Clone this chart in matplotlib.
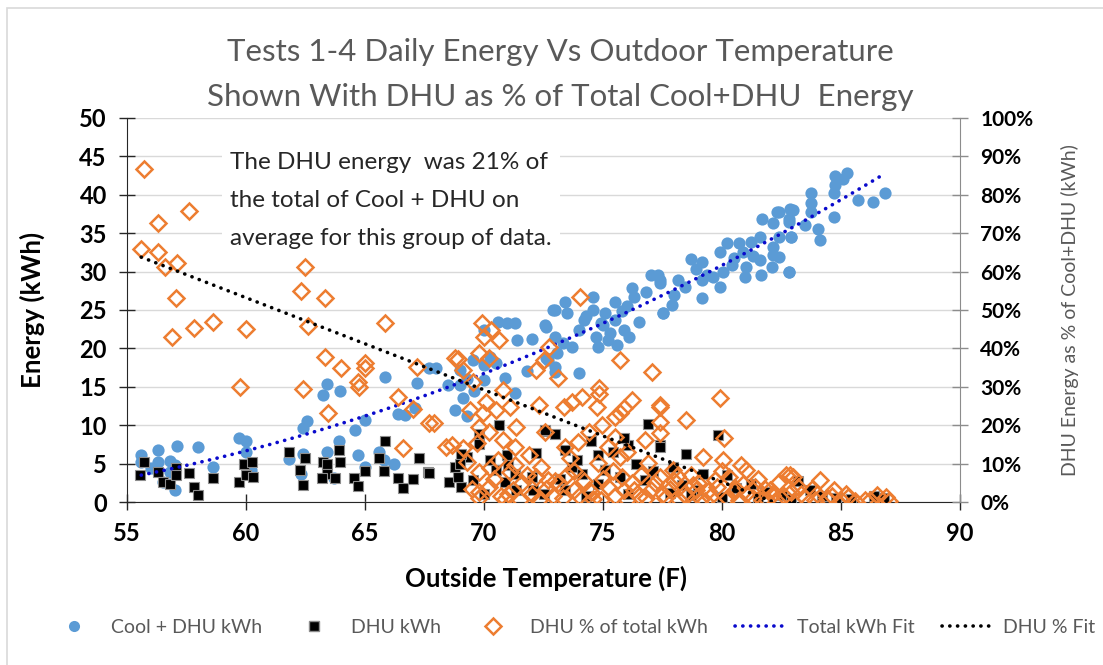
import numpy as np
import matplotlib
matplotlib.use("Agg")
import matplotlib.pyplot as plt
from matplotlib.lines import Line2D

plt.rcParams['font.family'] = ['Lato', 'DejaVu Sans']

# Cool + DHU daily energy (kWh) vs outdoor temperature (F)
cool_t = [55.6, 55.6, 56.3, 56.3, 57.1, 58.0, 58.6, 56.8, 56.5, 57.0, 56.8, 59.7, 60.0, 60.0, 60.2, 57.0, 56.0,
          63.4, 63.25, 63.95, 65.85, 67.2, 67.7, 66.4, 66.7, 67.1, 62.55, 62.4, 65.0, 64.6, 63.9, 63.4, 62.4,
          64.7, 65.6, 65.8, 62.3, 63.7, 65.0, 61.8, 66.2,
          70.6, 71.3, 70.95, 70.0, 71.4, 72.0, 72.55, 72.9, 72.6, 73.05, 69.55, 70.0, 70.5, 69.0, 70.9, 69.6,
          69.1, 68.8, 71.3, 70.0, 70.25, 68.0, 69.3, 68.5, 71.8, 73.0, 69.3, 69.0,
          77.0, 77.3, 77.4, 76.2, 76.8, 74.6, 75.5, 73.4, 73.0, 73.5, 74.6, 75.1, 76.3, 77.5, 74.2, 74.0, 74.9,
          75.5, 75.9, 76.1, 74.7, 75.2, 74.8, 75.6, 72.6, 73.0, 73.7, 73.3, 72.7, 73.0, 74.0, 75.0, 75.8, 76.5,
          74.3, 75.3, 76.0,
          82.3, 82.85, 81.7, 82.15, 82.8, 81.6, 82.9, 81.2, 80.7, 80.2, 79.9, 80.9, 82.15, 82.15, 78.7, 79.15,
          81.6, 80.4, 81.0, 78.9, 82.1, 80.05, 79.35, 80.95, 81.65, 82.8, 78.15, 78.45, 79.15, 79.6, 79.9, 79.15,
          77.4, 77.9, 77.5, 78.0, 80.5, 81.3,
          85.25, 84.75, 84.75, 84.7, 85.1, 83.75, 83.75, 83.75, 85.7, 86.35, 86.85, 84.7, 83.0, 82.8, 82.4, 83.5,
          84.05, 84.1, 82.9, 82.4, 82.8, 82.4]
cool_kwh = [6.1, 5.2, 6.8, 5.2, 7.3, 7.2, 4.6, 5.4, 2.6, 1.6, 3.9, 8.3, 7.9, 6.5, 4.2, 4.8, 4.4,
            15.4, 13.9, 14.4, 16.3, 15.5, 17.5, 11.5, 11.3, 12.2, 10.5, 9.6, 10.7, 9.4, 7.9, 6.5, 6.3,
            6.1, 6.5, 5.5, 3.7, 3.1, 4.6, 5.6, 5.0,
            23.5, 23.3, 23.3, 22.4, 21.1, 21.2, 23.0, 25.0, 18.7, 19.4, 18.5, 17.8, 18.1, 17.2, 16.1, 14.4,
            13.5, 12.0, 14.2, 15.9, 18.9, 17.4, 16.0, 15.2, 17.0, 16.9, 11.2, 15.2,
            29.6, 29.6, 28.5, 27.8, 27.4, 26.7, 26.1, 26.1, 25.0, 24.6, 25.0, 24.6, 26.7, 24.6, 23.7, 22.4, 23.3,
            23.7, 22.4, 21.5, 21.5, 21.1, 20.2, 20.4, 22.8, 21.5, 20.2, 20.7, 18.5, 17.6, 16.8, 23.0, 24.9, 23.5,
            24.2, 22.0, 25.5,
            37.8, 38.2, 36.9, 36.3, 36.5, 34.5, 34.5, 33.9, 33.7, 33.7, 32.6, 32.6, 33.2, 32.2, 31.7, 31.3,
            31.5, 30.9, 30.6, 30.4, 30.6, 30.0, 29.6, 29.3, 29.6, 30.0, 28.9, 28.0, 28.9, 29.3, 28.0, 26.5,
            28.9, 25.6, 24.6, 27.0, 31.8, 32.0,
            42.8, 42.4, 41.3, 40.2, 42.1, 40.2, 38.9, 37.8, 39.3, 39.1, 40.2, 37.1, 38.0, 36.9, 37.8, 36.1,
            35.6, 34.1, 34.5, 34.5, 30.0, 31.9]

# DHU daily energy (kWh)
dhu_t = [55.7, 55.55, 56.3, 56.5, 56.8, 57.05, 57.05, 57.6, 57.8, 58.0, 58.6, 59.7, 59.9, 60.0, 60.3, 60.25, 61.8,
         62.5, 62.25, 62.4, 63.25, 63.4, 63.9, 63.95, 63.4, 63.2, 63.75, 64.55, 64.7, 65.0, 65.85, 65.6, 65.8,
         66.4, 66.6, 67.0, 67.25, 67.65,
         70.65, 69.8, 69.8, 68.8, 69.3, 69.05, 70.25, 70.95, 72.2, 68.55, 69.05, 69.55, 70.9, 71.35, 72.05, 72.5,
         70.5, 71.3, 67.7, 72.55, 73.0, 69.0, 70.0, 71.0, 72.0, 68.9,
         76.9, 77.4, 73.4, 72.55, 73.7, 74.1, 74.8, 75.1, 76.05, 76.75, 75.7, 74.8, 73.4, 76.05, 73.9, 74.5,
         75.4, 76.4, 77.1, 74.3, 75.9, 73.2,
         79.85, 78.5, 79.2, 80.2, 77.4, 77.95, 78.3, 79.0, 80.6, 81.2, 81.8, 82.5, 83.2, 83.7, 84.2, 84.8,
         85.4, 86.4, 86.8, 80.0, 78.7, 81.5, 82.9, 77.8]
dhu_kwh = [5.2, 3.5, 3.9, 2.6, 2.4, 4.4, 3.5, 3.8, 2.0, 0.9, 3.1, 2.6, 5.0, 3.5, 3.2, 5.2, 6.5,
           5.7, 4.2, 2.2, 5.2, 4.9, 6.8, 5.2, 3.7, 3.1, 3.1, 3.1, 2.1, 4.1, 7.9, 5.7, 4.1,
           3.1, 1.8, 3.0, 5.7, 3.9,
           10.0, 8.9, 7.6, 4.6, 5.9, 6.3, 5.5, 6.1, 6.4, 2.6, 2.0, 2.9, 2.6, 1.6, 1.6, 1.1,
           4.2, 3.7, 3.8, 9.2, 8.9, 5.0, 1.0, 4.8, 3.2, 3.3,
           10.2, 7.4, 6.8, 9.4, 4.6, 3.7, 6.1, 4.2, 7.4, 2.9, 3.3, 2.4, 1.6, 1.1, 5.5, 8.0,
           6.5, 5.0, 4.0, 0.8, 8.3, 3.0,
           8.7, 6.3, 3.7, 3.5, 7.2, 4.6, 2.2, 1.5, 1.8, 2.4, 1.3, 0.9, 2.7, 1.6, 0.8, 0.5,
           0.4, 0.8, 0.5, 0.6, 0.9, 0.5, 0.4, 1.2]

# DHU as % of total Cool + DHU
pct_t = [55.7, 56.3, 57.6, 55.6, 56.3, 56.6, 57.1, 57.05, 56.9, 57.8, 58.6, 60.0, 59.75,
         62.5, 62.3, 63.3, 62.6, 65.85, 63.3, 64.0, 65.0, 65.0, 64.7, 64.75, 62.4, 63.45, 66.4, 67.2, 67.0,
         67.7, 66.6, 68.4,
         69.9, 70.3, 70.65, 68.9, 69.8, 70.2, 69.1, 69.55, 72.2, 72.5, 72.75, 70.8, 70.1, 69.4, 69.95, 70.5,
         71.1, 72.3, 67.9, 69.8, 71.35, 70.2, 70.8, 68.65, 69.1, 69.7, 71.3, 72.55, 69.8, 70.25, 71.1, 69.8,
         69.8, 70.2, 72.4, 72.2, 72.7, 71.3, 68.8, 70.0, 71.0, 71.6, 70.6, 71.9, 69.3, 72.9, 70.9,
         74.05, 75.7, 77.05, 73.1, 74.85, 74.85, 74.1, 73.7, 73.35, 74.75, 76.2, 75.9, 75.7, 75.5, 77.4, 77.4,
         77.4, 76.75, 74.95, 74.4, 73.95, 73.4, 75.5, 75.2, 75.7, 74.8, 74.4, 73.1, 75.9, 76.9, 77.4,
         74.6, 75.0, 76.2, 73.8, 76.5, 74.0, 75.4, 76.0, 73.6, 77.0,
         79.9, 77.4, 78.5, 80.1, 79.2, 80.05, 77.95, 78.7, 80.8, 81.0, 82.7, 78.9,
         78.0, 78.4, 79.0, 79.5, 79.8, 80.3, 80.5, 80.9, 81.3, 81.5, 81.8, 82.1, 82.4, 82.9, 83.2, 83.5, 83.0,
         77.6, 78.2, 79.3, 80.7, 81.9, 80.0,
         82.85, 84.1, 84.7, 85.2, 86.5, 86.9, 84.0, 84.4, 85.0, 85.6, 83.8, 86.0, 87.0,
         69.5, 70.4, 70.7, 71.2, 71.5, 71.8, 72.0, 72.3, 72.6, 73.0, 73.3, 73.5, 73.8, 74.2, 74.5, 74.9,
         75.2, 75.5, 75.8, 76.0, 76.3, 76.6, 76.8, 77.2, 77.5, 77.8, 78.1, 78.5, 78.8, 79.1, 79.4, 79.7,
         80.2, 80.6, 81.0, 81.4, 81.7, 82.0, 82.3, 82.6, 83.3, 83.9, 84.6, 85.3, 86.2]
pct_val = [86.7, 72.6, 75.9, 66.0, 65.2, 61.3, 62.2, 53.0, 43.0, 45.2, 46.8, 45.0, 30.0,
           61.3, 55.0, 53.0, 45.8, 46.7, 37.8, 34.8, 36.1, 35.0, 31.3, 30.0, 29.3, 23.1, 27.3, 35.2, 24.1,
           20.7, 14.0, 14.4,
           46.5, 44.8, 42.2, 37.2, 38.7, 37.4, 34.4, 31.3, 34.4, 37.0, 40.4, 29.2, 26.1, 24.0, 23.1, 24.0,
           24.8, 25.3, 20.5, 19.6, 19.6, 18.3, 16.1, 14.8, 14.0, 15.3, 14.4, 18.3, 7.9, 8.8, 7.9, 2.7,
           1.0, 4.0, 9.2, 6.6, 5.7, 9.6, 37.6, 43.0, 2.0, 5.0, 11.0, 12.2, 10.5, 1.5, 0.8,
           53.5, 37.0, 33.9, 32.2, 29.6, 28.0, 27.4, 26.1, 24.8, 24.8, 26.6, 24.4, 23.1, 22.2, 25.3, 20.9,
           17.9, 16.1, 20.0, 18.3, 15.7, 14.4, 17.0, 14.4, 11.8, 10.1, 3.1, 4.9, 3.1, 10.1, 6.6,
           0.8, 6.0, 5.0, 8.0, 1.5, 1.5, 8.2, 13.0, 11.5, 3.2,
           27.0, 24.8, 21.4, 16.6, 11.8, 10.9, 8.3, 7.0, 9.6, 8.3, 7.0, 3.1,
           5.5, 2.0, 5.0, 1.2, 3.8, 6.5, 2.5, 4.8, 1.0, 6.0, 3.5, 1.8, 5.2, 2.5, 4.0, 1.0, 6.5,
           1.0, 0.5, 0.3, 0.4, 0.5, 8.0,
           7.0, 5.7, 3.1, 2.0, 1.8, 1.4, 2.0, 1.0, 0.5, 0.3, 3.5, 0.6, 0.3,
           3.5, 6.0, 1.5, 3.0, 0.5, 7.0, 2.0, 0.6, 3.5, 5.5, 1.0, 7.0, 3.0, 5.5, 2.5, 0.5,
           4.0, 1.5, 6.5, 0.6, 3.0, 7.0, 1.0, 5.0, 2.0, 3.5, 6.8, 1.5, 4.5, 0.8, 2.8, 5.8,
           1.0, 3.5, 2.0, 4.0, 0.6, 3.0, 0.3, 1.5, 2.0, 0.6, 1.5, 1.2, 0.4]

# linear DHU % trendline (slope %/F, intercept %)
pct_fit_coef = [-2.4, 197.2]

x_ticks = [55, 60, 65, 70, 75, 80, 85, 90]
y_ticks = [0, 5, 10, 15, 20, 25, 30, 35, 40, 45, 50]
pct_ticks = [0, 10, 20, 30, 40, 50, 60, 70, 80, 90, 100]

blue = '#5B9BD5'
orange = '#ED7D31'
grey_txt = '#595959'

# total kWh trendline, poly order 2 like Excel
c_total = np.polyfit(cool_t, cool_kwh, 2)
xt = np.linspace(min(cool_t), max(cool_t), 200)
xp = np.linspace(min(pct_t), max(pct_t), 200)

fig = plt.figure(figsize=(11.03, 6.65), dpi=100)
ax = fig.add_axes([0.1151, 0.2451, 0.7553, 0.5775])
ax2 = ax.twinx()

ax.plot(cool_t, cool_kwh, 'o', color=blue, markersize=8.8, markeredgewidth=0, zorder=3)
ax.plot(dhu_t, dhu_kwh, 's', color='black', markersize=7.5, markeredgecolor='#8c8c8c',
        markeredgewidth=0.8, zorder=4)
ax.plot(xt, np.polyval(c_total, xt), color='#0a0acc', lw=2.6, linestyle=(0, (0.05, 2.1)),
        dash_capstyle='round', zorder=5)

ax2.plot(pct_t, pct_val, 'D', markerfacecolor='none', markeredgecolor=orange, markersize=8,
         markeredgewidth=1.8, zorder=3)
ax2.plot(xp, np.polyval(pct_fit_coef, xp), color='black', lw=2.6, linestyle=(0, (0.05, 2.1)),
         dash_capstyle='round', zorder=5)

ax.set_xlim(55, 90)
ax.set_ylim(0, 50)
ax2.set_ylim(0, 100)
ax.set_xticks(x_ticks)
ax.set_yticks(y_ticks)
ax2.set_yticks(pct_ticks)
ax2.set_yticklabels([f'{v}%' for v in pct_ticks])

ax.grid(axis='y', color='#d9d9d9', lw=1)
ax.set_axisbelow(True)

ax.spines['top'].set_visible(False)
ax2.spines['top'].set_visible(False)
ax.spines['right'].set_visible(False)
ax2.spines['left'].set_visible(False)
ax2.spines['bottom'].set_visible(False)
ax.spines['left'].set_color('#262626')
ax.spines['bottom'].set_color('#262626')
ax2.spines['right'].set_color('#8c8c8c')

ax.tick_params(axis='y', direction='inout', length=11, width=1, color='#262626',
               labelsize=17, pad=9, labelcolor='black')
ax.tick_params(axis='x', direction='inout', length=11, width=1, color='#262626',
               labelsize=17, pad=9, labelcolor='black')
ax2.tick_params(axis='y', direction='inout', length=11, width=1, color='#8c8c8c',
                labelsize=15, pad=9)
for lab in ax.get_xticklabels() + ax.get_yticklabels() + ax2.get_yticklabels():
    lab.set_fontweight('bold')

ax.set_xlabel('Outside Temperature (F)', fontsize=18.5, fontweight='bold')
ax.xaxis.set_label_coords(0.503, -0.165)
ax.set_ylabel('Energy (kWh)', fontsize=18.5, fontweight='bold')
ax.yaxis.set_label_coords(-0.098, 0.5)
ax2.set_ylabel('DHU Energy as % of Cool+DHU (kWh)', fontsize=14, color=grey_txt, labelpad=20)

fig.text(0.5077, 0.888, 'Tests 1-4 Daily Energy Vs Outdoor Temperature\n'
         'Shown With DHU as % of Total Cool+DHU  Energy',
         ha='center', va='center', fontsize=22.5, color=grey_txt, linespacing=1.7)

ax.text(0.1237, 0.912, 'The DHU energy  was 21% of\nthe total of Cool + DHU on\n'
        'average for this group of data.', transform=ax.transAxes, ha='left', va='top',
        fontsize=17.5, color='#262626', linespacing=2.0, zorder=6,
        bbox=dict(facecolor='white', edgecolor='none', pad=6))

handles = [
    Line2D([], [], marker='o', ls='none', color=blue, markersize=8, markeredgewidth=0),
    Line2D([], [], marker='s', ls='none', color='black', markersize=7, markeredgecolor='#8c8c8c'),
    Line2D([], [], marker='D', ls='none', markerfacecolor='none', markeredgecolor=orange,
           markersize=8, markeredgewidth=1.8),
    Line2D([], [], color='#0a0acc', lw=2.6, linestyle=(0, (0.05, 2.1)), dash_capstyle='round'),
    Line2D([], [], color='black', lw=2.6, linestyle=(0, (0.05, 2.1)), dash_capstyle='round'),
]
labels = ['Cool + DHU kWh', 'DHU kWh', 'DHU % of total kWh', 'Total kWh Fit', 'DHU % Fit']
leg = fig.legend(handles, labels, loc='center', bbox_to_anchor=(0.519, 0.057), ncol=5,
                 frameon=False, fontsize=14, handlelength=2.5, columnspacing=1.4,
                 handletextpad=0.67)
for t in leg.get_texts():
    t.set_color(grey_txt)

# chart border
fig.patches.append(plt.Rectangle((0.0065, -0.01), 1.0, 0.998, transform=fig.transFigure,
                                 fill=False, edgecolor='#d9d9d9', lw=1.2))

fig.savefig('out.png', dpi=100)
